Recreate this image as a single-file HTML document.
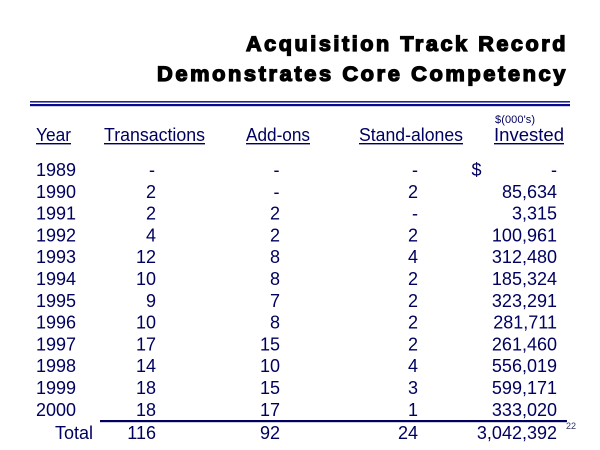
<!DOCTYPE html>
<html>
<head>
<meta charset="utf-8">
<style>
html,body{margin:0;padding:0;background:#fff;}
body{width:600px;height:450px;overflow:hidden;}
svg{display:block;}
.t{font-family:"Liberation Sans",Arial,sans-serif;font-weight:bold;font-size:21px;fill:#000;stroke:#000;stroke-width:1.3px;letter-spacing:2.5px;}
.h{font-family:"Liberation Sans",Arial,sans-serif;font-size:18px;fill:#00005e;}
.d{font-family:"Liberation Sans",Arial,sans-serif;font-size:18px;fill:#00005e;}
.e{text-anchor:end;}
.s{font-family:"Liberation Sans",Arial,sans-serif;font-size:11px;fill:#00005e;}
.p{font-family:"Liberation Sans",Arial,sans-serif;font-size:9px;fill:#333366;}
</style>
</head>
<body>
<svg width="600" height="450" viewBox="0 0 600 450" xmlns="http://www.w3.org/2000/svg">
  <!-- Title -->
  <text class="t" x="246" y="51" textLength="322" lengthAdjust="spacingAndGlyphs">Acquisition Track Record</text>
  <text class="t" x="157" y="81" textLength="411" lengthAdjust="spacingAndGlyphs">Demonstrates Core Competency</text>

  <!-- Double rule -->
  <rect x="30" y="101" width="540" height="1.6" fill="#2222a8"/>
  <rect x="30" y="104" width="540" height="2.2" fill="#0c0c88"/>

  <!-- small unit label -->
  <text class="s" x="495" y="123" textLength="40" lengthAdjust="spacing">$(000's)</text>

  <!-- Headers -->
  <text class="h" x="36" y="141" textLength="35" lengthAdjust="spacingAndGlyphs">Year</text>
  <rect x="36" y="143" width="35" height="1.4" fill="#00005e"/>
  <text class="h" x="104" y="141" textLength="101" lengthAdjust="spacingAndGlyphs">Transactions</text>
  <rect x="104" y="143" width="101" height="1.4" fill="#00005e"/>
  <text class="h" x="246" y="141" textLength="64" lengthAdjust="spacingAndGlyphs">Add-ons</text>
  <rect x="246" y="143" width="64" height="1.4" fill="#00005e"/>
  <text class="h" x="359" y="141" textLength="104" lengthAdjust="spacingAndGlyphs">Stand-alones</text>
  <rect x="359" y="143" width="104" height="1.4" fill="#00005e"/>
  <text class="h" x="494" y="141" textLength="70" lengthAdjust="spacingAndGlyphs">Invested</text>
  <rect x="494" y="143" width="70" height="1.4" fill="#00005e"/>

  <!-- Year column -->
  <g class="d">
    <text x="36" y="176">1989</text>
    <text x="36" y="197.8">1990</text>
    <text x="36" y="219.6">1991</text>
    <text x="36" y="241.4">1992</text>
    <text x="36" y="263.2">1993</text>
    <text x="36" y="285">1994</text>
    <text x="36" y="306.8">1995</text>
    <text x="36" y="328.6">1996</text>
    <text x="36" y="350.4">1997</text>
    <text x="36" y="372.2">1998</text>
    <text x="36" y="394">1999</text>
    <text x="36" y="415.8">2000</text>
    <text x="93" y="439" class="e">Total</text>
  </g>

  <!-- Transactions -->
  <g class="d e">
    <text x="155" y="176">-</text>
    <text x="156" y="197.8">2</text>
    <text x="156" y="219.6">2</text>
    <text x="156" y="241.4">4</text>
    <text x="156" y="263.2">12</text>
    <text x="156" y="285">10</text>
    <text x="156" y="306.8">9</text>
    <text x="156" y="328.6">10</text>
    <text x="156" y="350.4">17</text>
    <text x="156" y="372.2">14</text>
    <text x="156" y="394">18</text>
    <text x="156" y="415.8">18</text>
    <text x="156" y="439">116</text>
  </g>

  <!-- Add-ons -->
  <g class="d e">
    <text x="279.5" y="176">-</text>
    <text x="279.5" y="197.8">-</text>
    <text x="280" y="219.6">2</text>
    <text x="280" y="241.4">2</text>
    <text x="280" y="263.2">8</text>
    <text x="280" y="285">8</text>
    <text x="280" y="306.8">7</text>
    <text x="280" y="328.6">8</text>
    <text x="280" y="350.4">15</text>
    <text x="280" y="372.2">10</text>
    <text x="280" y="394">15</text>
    <text x="280" y="415.8">17</text>
    <text x="280" y="439">92</text>
  </g>

  <!-- Stand-alones -->
  <g class="d e">
    <text x="418" y="176">-</text>
    <text x="418" y="197.8">2</text>
    <text x="418" y="219.6">-</text>
    <text x="418" y="241.4">2</text>
    <text x="418" y="263.2">4</text>
    <text x="418" y="285">2</text>
    <text x="418" y="306.8">2</text>
    <text x="418" y="328.6">2</text>
    <text x="418" y="350.4">2</text>
    <text x="418" y="372.2">4</text>
    <text x="418" y="394">3</text>
    <text x="418" y="415.8">1</text>
    <text x="418" y="439">24</text>
  </g>

  <!-- Invested -->
  <text class="d" x="471.5" y="176">$</text>
  <g class="d e">
    <text x="557" y="176">-</text>
    <text x="557" y="197.8">85,634</text>
    <text x="557" y="219.6">3,315</text>
    <text x="557" y="241.4">100,961</text>
    <text x="557" y="263.2">312,480</text>
    <text x="557" y="285">185,324</text>
    <text x="557" y="306.8">323,291</text>
    <text x="557" y="328.6">281,711</text>
    <text x="557" y="350.4">261,460</text>
    <text x="557" y="372.2">556,019</text>
    <text x="557" y="394">599,171</text>
    <text x="557" y="415.8">333,020</text>
    <text x="557" y="439">3,042,392</text>
  </g>

  <!-- Total rule -->
  <rect x="100" y="420" width="467" height="2.2" fill="#00005e"/>

  <!-- Page number -->
  <text class="p" x="566" y="429">22</text>
</svg>
</body>
</html>
